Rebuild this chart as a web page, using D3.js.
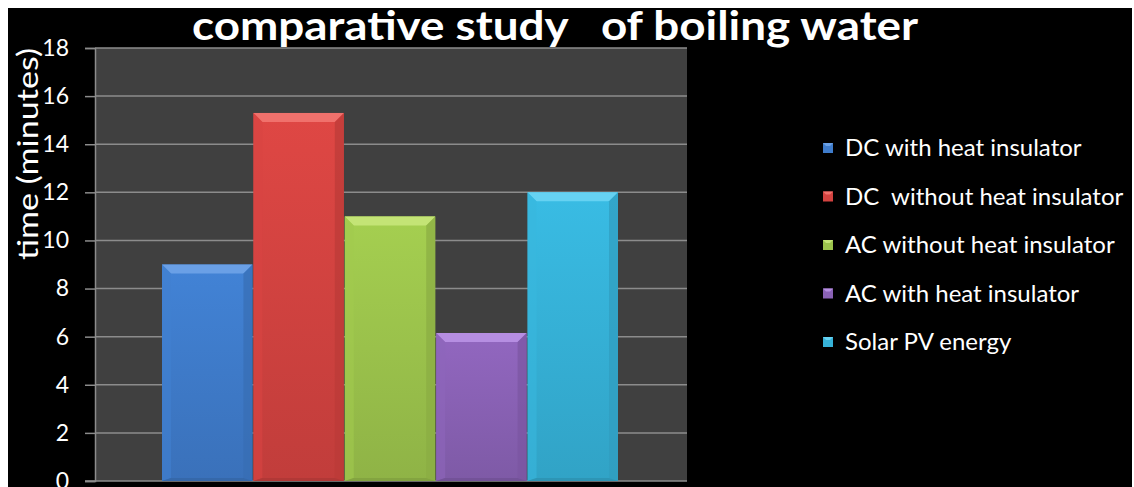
<!DOCTYPE html>
<html><head><meta charset="utf-8">
<script src="https://cdn.jsdelivr.net/npm/d3@7/dist/d3.min.js"></script>
<style>
html,body{margin:0;padding:0;background:#fff;}
svg{display:block;}
text{font-family:Lato,"Open Sans",sans-serif;fill:#fff;}
</style></head>
<body>
<svg id="chart" width="1134" height="487"></svg>
<script>
const categories = ["DC with heat insulator","DC  without heat insulator","AC without heat insulator","AC with heat insulator","Solar PV energy"];
const values = [9, 15.3, 11, 6.15, 12];
const colors = ["#3f7ccb","#d34340","#9cc44c","#8a62b6","#36b2d8"];
const bevelColors = ["#6aa0e6","#f0716c","#c4e476","#b68ee2","#66d2f2"];
const yTicks = [0,2,4,6,8,10,12,14,16,18];
const title = "comparative study   of boiling water";
const yLabel = "time (minutes)";

const svg = d3.select("#chart");
svg.append("rect").attr("x",8).attr("y",8).attr("width",1124).attr("height",479).attr("fill","#000");

const plot = {l:95, r:687, t:48, b:481};
const y = d3.scaleLinear().domain([0,18]).range([plot.b, plot.t]);
const x = d3.scaleBand().domain(categories).range([162,618]).paddingInner(0.01);

svg.append("rect").attr("x",plot.l).attr("y",plot.t).attr("width",plot.r-plot.l).attr("height",plot.b-plot.t).attr("fill","#404040");

// gridlines
svg.append("g").selectAll("line").data(yTicks.filter(d=>d>0)).join("line")
  .attr("x1",plot.l).attr("x2",plot.r).attr("y1",d=>y(d)).attr("y2",d=>y(d))
  .attr("stroke","#8c8c8c").attr("stroke-width",1.5);

// y axis
const yAxis = d3.axisLeft(y).tickValues(yTicks).tickSize(10).tickPadding(16);
const ga = svg.append("g").attr("transform",`translate(${plot.l},0)`).call(yAxis);
ga.select(".domain").attr("stroke","#8c8c8c").attr("stroke-width",1.5);
ga.selectAll(".tick line").attr("stroke","#8c8c8c").attr("stroke-width",1.5);
ga.selectAll(".tick text").attr("fill","#fff").style("font-size","23px").style("font-family","Lato, 'Open Sans', sans-serif");
svg.append("line").attr("x1",plot.l-10).attr("x2",plot.r).attr("y1",plot.b).attr("y2",plot.b).attr("stroke","#8c8c8c").attr("stroke-width",1.5);

// gradients
const defs = svg.append("defs");
categories.forEach((c,i)=>{
  const g = defs.append("linearGradient").attr("id","g"+i).attr("x1",0).attr("x2",0).attr("y1",0).attr("y2",1);
  g.append("stop").attr("offset","0%").attr("stop-color",d3.color(colors[i]).brighter(0.15));
  g.append("stop").attr("offset","100%").attr("stop-color",d3.color(colors[i]).darker(0.25));
});

// bars
const bars = svg.append("g").selectAll("g").data(categories).join("g");
bars.append("rect")
  .attr("x",d=>x(d)).attr("width",x.bandwidth())
  .attr("y",(d,i)=>y(values[i])).attr("height",(d,i)=>y(0)-y(values[i]))
  .attr("fill",(d,i)=>`url(#g${i})`);
const bv = 9;
// top bevel
bars.append("path").attr("d",(d,i)=>{
  const x0=x(d), x1=x(d)+x.bandwidth(), yt=y(values[i]);
  return `M${x0},${yt}L${x1},${yt}L${x1-bv},${yt+bv}L${x0+bv},${yt+bv}Z`;
}).attr("fill",(d,i)=>bevelColors[i]);
// side bevels
bars.append("path").attr("d",(d,i)=>{
  const x0=x(d), yt=y(values[i]), yb=y(0);
  return `M${x0},${yt}L${x0+bv},${yt+bv}L${x0+bv},${yb-3}L${x0},${yb}Z`;
}).attr("fill",(d,i)=>d3.color(colors[i]).brighter(0.08)).attr("opacity",0.6);
bars.append("path").attr("d",(d,i)=>{
  const x1=x(d)+x.bandwidth(), yt=y(values[i]), yb=y(0);
  return `M${x1},${yt}L${x1-bv},${yt+bv}L${x1-bv},${yb-3}L${x1},${yb}Z`;
}).attr("fill",(d,i)=>d3.color(colors[i]).darker(0.35)).attr("opacity",0.7);
bars.append("path").attr("d",(d,i)=>{
  const x0=x(d), x1=x(d)+x.bandwidth(), yb=y(0);
  return `M${x0},${yb}L${x0+bv},${yb-3}L${x1-bv},${yb-3}L${x1},${yb}Z`;
}).attr("fill",(d,i)=>d3.color(colors[i]).darker(0.5));

// title
svg.append("text").attr("x",192).attr("y",40).text(title)
  .style("font-size","40px").style("font-weight","bold").style("white-space","pre")
  .attr("textLength",726).attr("lengthAdjust","spacingAndGlyphs");

// y label
svg.append("text").attr("transform","translate(38,154) rotate(-90)").attr("text-anchor","middle")
  .text(yLabel).style("font-size","29px").attr("textLength",212).attr("lengthAdjust","spacingAndGlyphs");

// legend
const lg = svg.append("g").selectAll("g").data(categories).join("g")
  .attr("transform",(d,i)=>`translate(823,${148 + i*48.5})`);
lg.append("rect").attr("x",0).attr("y",-5).attr("width",10).attr("height",10).attr("fill",(d,i)=>colors[i]);
lg.append("path").attr("d","M0,-5L10,-5L7,-2L3,-2Z").attr("fill",(d,i)=>bevelColors[i]);
lg.append("text").attr("x",22).attr("y",8).text(d=>d).style("font-size","24px").style("white-space","pre");
</script>
</body></html>
